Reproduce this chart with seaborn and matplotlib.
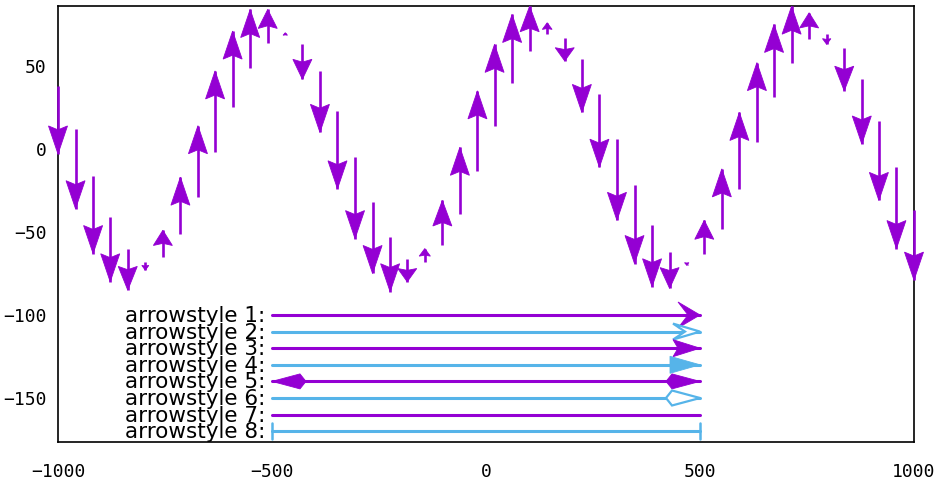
import matplotlib
matplotlib.use("Agg")
import pandas as pd
import matplotlib.pyplot as plt
import matplotlib.transforms as mtransforms
from matplotlib.patches import Polygon
import seaborn as sns

# vector field: x position, tail y, head y
vec_x = [-1000, -959, -918, -878, -837, -796, -755, -714, -673, -633,
         -592, -551, -510, -469, -429, -388, -347, -306, -265, -224,
         -184, -143, -102, -61, -20, 20, 61, 102, 143, 184,
         224, 265, 306, 347, 388, 429, 469, 510, 551, 592,
         633, 673, 714, 755, 796, 837, 878, 918, 959, 1000]
vec_tail = [38, 12, -16, -41, -60, -68, -65, -51, -29, -2,
            25, 49, 64, 69, 63, 47, 23, -5, -32, -53,
            -66, -68, -58, -39, -13, 14, 40, 59, 69, 67,
            54, 33, 6, -22, -46, -62, -69, -63, -48, -24,
            4, 31, 52, 66, 69, 61, 42, 17, -11, -37]
vec_head = [-3, -36, -63, -80, -85, -73, -49, -17, 14, 47,
            71, 84, 84, 70, 42, 10, -24, -54, -75, -86,
            -80, -60, -31, 1, 35, 63, 81, 86, 76, 53,
            22, -11, -43, -69, -83, -84, -70, -43, -12, 22,
            52, 75, 86, 82, 63, 35, 3, -31, -60, -79]

# arrow style samples
style_ids = ["1", "2", "3", "4", "5", "6", "7", "8"]
style_y = [-100, -110, -120, -130, -140, -150, -160, -170]
style_x0 = -500
style_x1 = 500

purple = "#9400d3"
blue = "#56b4e9"
style_colors = [purple, blue, purple, blue, purple, blue, purple, blue]

sns.set_theme(style="white")
plt.rcParams["font.family"] = ["DejaVu Sans"]

fig = plt.figure(figsize=(9.43, 4.82), dpi=100)
ax = fig.add_subplot(111)
fig.subplots_adjust(left=58 / 943, right=914 / 943, top=1 - 6 / 482, bottom=1 - 442 / 482)
ax.set_xlim(-1000, 1000)
ax.set_ylim(-176.5, 86.1)


def head_transform(x, y, angle):
    return mtransforms.Affine2D().rotate_deg(angle) + mtransforms.ScaledTranslation(x, y, ax.transData)


def add_head(x, y, angle, verts, color, filled=True, lw=1.6):
    face = color if filled else "white"
    p = Polygon(verts, closed=True, facecolor=face, edgecolor=color, linewidth=lw if not filled else 0.6,
                transform=head_transform(x, y, angle), clip_on=False, zorder=4)
    ax.add_patch(p)


# vectors
ax.vlines(vec_x, vec_tail, vec_head, color=purple, linewidth=1.9, zorder=3, clip_on=False)
for x, t, h in zip(vec_x, vec_tail, vec_head):
    p0 = ax.transData.transform((x, t))
    p1 = ax.transData.transform((x, h))
    L = abs(p1[1] - p0[1])
    hl = max(min(28, 0.57 * L), 2.5)
    hw = max(min(9.5, 0.42 * L), 2.2)
    notch = 0.14 * hl
    verts = [(0, 0), (-hl, hw), (-hl + notch, 0), (-hl, -hw)]
    add_head(x, h, 90 if h > t else -90, verts, purple)

# arrow style shafts
rows = []
for sid, y in zip(style_ids, style_y):
    rows.append({"style": sid, "x": style_x0, "y": y})
    rows.append({"style": sid, "x": style_x1, "y": y})
shafts = pd.DataFrame(rows)
sns.lineplot(data=shafts, x="x", y="y", hue="style", units="style", estimator=None,
             palette=style_colors, linewidth=2.2, legend=False, sort=False, ax=ax, zorder=3)

chevron = [(0, 0), (-22, 13), (-12, 0), (-22, -13)]
chevron_open = [(0, 0), (-27, 8), (-15, 0), (-27, -8)]
notched = [(0, 0), (-27, 8.5), (-22, 0), (-27, -8.5)]
triangle = [(0, 0), (-30, 8.5), (-30, -8.5)]
kite = [(0, 0), (-28, 7.5), (-34, 0), (-28, -7.5)]
bar = [(0, 8), (0, -8)]

add_head(style_x1, style_y[0], 0, chevron, style_colors[0])
add_head(style_x1, style_y[1], 0, chevron_open, style_colors[1], filled=False)
add_head(style_x1, style_y[2], 0, notched, style_colors[2])
add_head(style_x1, style_y[3], 0, triangle, style_colors[3])
add_head(style_x1, style_y[4], 0, kite, style_colors[4])
add_head(style_x0, style_y[4], 180, kite, style_colors[4])
add_head(style_x1, style_y[5], 0, kite, style_colors[5], filled=False)
for xe in (style_x0, style_x1):
    ax.plot([v[0] for v in bar], [v[1] for v in bar], color=style_colors[7], linewidth=1.8,
            transform=head_transform(xe, style_y[7], 0), clip_on=False, zorder=4)

for sid, y in zip(style_ids, style_y):
    ax.annotate(f"arrowstyle {sid}:", xy=(style_x0, y), xytext=(-7, -1), textcoords="offset pixels",
                ha="right", va="center", fontsize=15.5, color="black", family="DejaVu Sans")

ax.set_xticks([-1000, -500, 0, 500, 1000])
ax.set_yticks([50, 0, -50, -100, -150])
ax.tick_params(axis="both", length=0, labelsize=13, colors="black")
ax.tick_params(axis="x", pad=15)
ax.tick_params(axis="y", pad=8)
for lab in ax.get_xticklabels() + ax.get_yticklabels():
    lab.set_family("DejaVu Sans Mono")
for sp in ax.spines.values():
    sp.set_color("black")
    sp.set_linewidth(1.2)
ax.set_xlabel("")
ax.set_ylabel("")

fig.savefig("out.png", dpi=100)
